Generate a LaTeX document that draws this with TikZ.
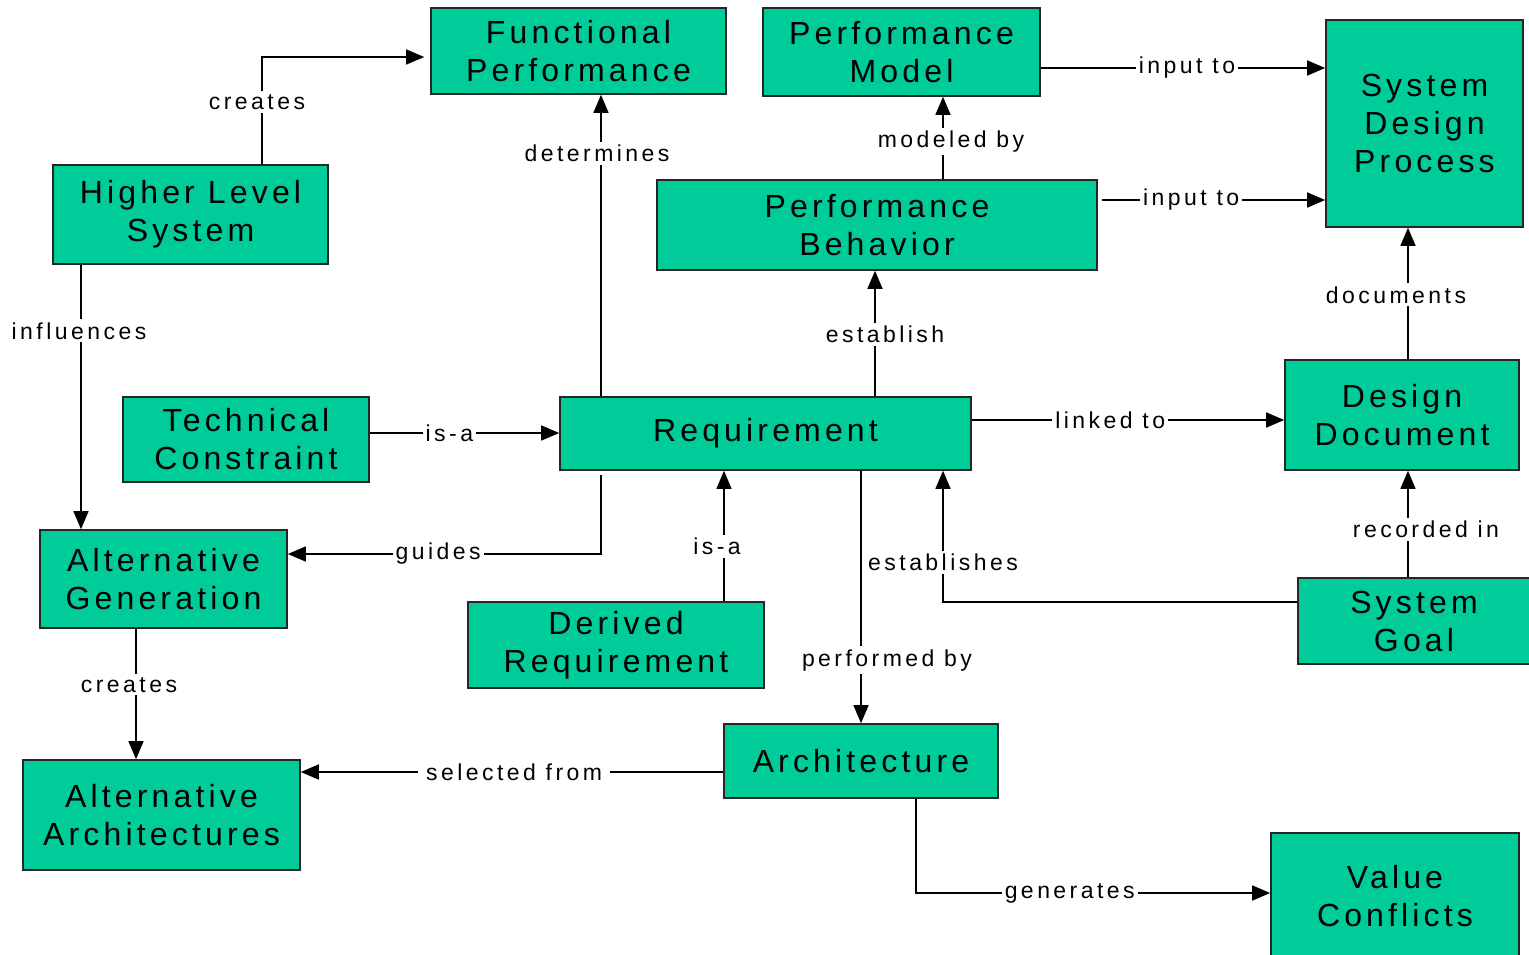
\documentclass[tikz,border=0pt]{standalone}
\usepackage{fontspec}
\setmainfont{Liberation Sans}
\newfontfamily\boxfont[LetterSpace=13]{Liberation Sans}
\newfontfamily\relfont[LetterSpace=15]{Liberation Sans}
\usetikzlibrary{arrows.meta}
\definecolor{boxgreen}{RGB}{0,204,153}
\tikzset{
  box/.style={draw=black!85, line width=1.6pt, fill=boxgreen, inner sep=0pt,
    align=center, text=black, font=\boxfont\fontsize{32}{38}\selectfont},
  rel/.style={draw=black, line width=1.4pt, -{Triangle[length=18pt,width=15pt]}},
  lab/.style={fill=white, inner sep=3pt, text=black, font=\relfont\fontsize{23}{26}\selectfont},
}
\begin{document}
\begin{tikzpicture}[x=1pt,y=-1pt]
\useasboundingbox (0,0) rectangle (1529,954);

% concepts
\node[box,minimum width=295pt,minimum height=86pt]  (fp)   at (578.5,51)   {Functional\\Performance};
\node[box,minimum width=277pt,minimum height=88pt]  (pm)   at (901.5,52)   {Performance\\Model};
\node[box,minimum width=197pt,minimum height=207pt] (sdp)  at (1424.5,123.5) {System\\Design\\Process};
\node[box,minimum width=275pt,minimum height=99pt]  (hls)  at (190.5,214.5) {Higher Level\\System};
\node[box,minimum width=440pt,minimum height=90pt]  (pb)   at (877,225)    {Performance\\Behavior};
\node[box,minimum width=246pt,minimum height=85pt]  (tc)   at (246,439.5)  {Technical\\Constraint};
\node[box,minimum width=411pt,minimum height=73pt]  (req)  at (765.5,433.5) {Requirement};
\node[box,minimum width=234pt,minimum height=110pt] (dd)   at (1402,415)   {Design\\Document};
\node[box,minimum width=247pt,minimum height=98pt]  (ag)   at (163.5,579)  {Alternative\\Generation};
\node[box,minimum width=296pt,minimum height=86pt]  (dr)   at (616,645)    {Derived\\Requirement};
\node[box,minimum width=232pt,minimum height=86pt]  (sg)   at (1414,621)   {System\\Goal};
\node[box,minimum width=274pt,minimum height=74pt]  (arch) at (861,761)    {Architecture};
\node[box,minimum width=277pt,minimum height=110pt] (aa)   at (161.5,815)  {Alternative\\Architectures};
\node[box,minimum width=248pt,minimum height=127pt] (vc)   at (1395,896.5) {Value\\Conflicts};

% relations
\draw[rel,shorten >=6pt] ([xshift=71.5pt]hls.north) |- node[lab,pos=0.29,xshift=-5pt]{creates} ([yshift=-6pt]fp.west);
\draw[rel] ([xshift=-109.5pt]hls.south) -- node[lab,pos=0.25,xshift=-2pt]{influences} ([xshift=-82.5pt]ag.north);
\draw[rel] ([xshift=-164.5pt]req.north) -- node[lab,pos=0.805,xshift=-4pt]{determines} ([xshift=22.5pt]fp.south);
\draw[rel] ([xshift=66pt]pb.north) -- node[lab,pos=0.46,xshift=8pt]{modeled by} ([xshift=41.5pt]pm.south);
\draw[rel] ([yshift=-16pt]pm.east) -- node[lab,pos=0.514]{input to} ([yshift=55.5pt]sdp.west);
\draw[rel] ([yshift=25pt,xshift=4pt]pb.east) -- node[lab,pos=0.40]{input to} ([yshift=-76.5pt]sdp.west);
\draw[rel] ([xshift=109.5pt]req.north) -- node[lab,pos=0.49,xshift=10pt]{establish} ([xshift=-2pt]pb.south);
\draw[rel] ([yshift=6.5pt]tc.east) -- node[lab,pos=0.42]{is-a} ([yshift=0.5pt]req.west);
\draw[rel] ([yshift=13.5pt]req.east) -- node[lab,pos=0.443]{linked to} ([yshift=-5pt]dd.west);
\draw[rel] ([xshift=6pt]dd.north) -- node[lab,pos=0.49,xshift=-12pt]{documents} ([xshift=-16.5pt]sdp.south);
\draw[rel] ([xshift=-6pt]sg.north) -- node[lab,pos=0.45,xshift=18pt]{recorded in} ([xshift=6pt]dd.south);
\draw[rel] ([yshift=19pt]sg.west) -| node[lab,pos=0.65]{establishes} ([xshift=177.5pt]req.south);
\draw[rel] ([xshift=-164.5pt,yshift=-4pt]req.south) |- node[lab,pos=0.76]{guides} ([yshift=25pt]ag.east);
\draw[rel] ([xshift=108pt]dr.north) -- node[lab,pos=0.42,xshift=-7pt]{is-a} ([xshift=-41.5pt]req.south);
\draw[rel] ([xshift=95.5pt]req.south) -- node[lab,pos=0.75,xshift=26pt]{performed by} (arch.north);
\draw[rel] ([xshift=-27.5pt]ag.south) -- node[lab,pos=0.43,xshift=-7pt]{creates} ([xshift=-25.5pt]aa.north);
\draw[rel] ([yshift=-11pt]arch.west) -- node[lab,pos=0.495,inner xsep=8pt]{selected from} ([yshift=43pt]aa.east);
\draw[rel] ([xshift=55pt]arch.south) |- node[lab,pos=0.717]{generates} ([yshift=3.5pt]vc.west);
\end{tikzpicture}
\end{document}
